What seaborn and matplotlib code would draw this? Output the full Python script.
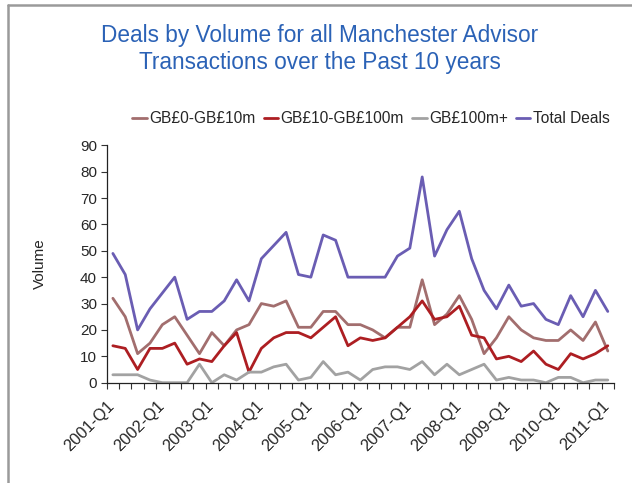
import pandas as pd
import matplotlib
matplotlib.use("Agg")
import matplotlib.pyplot as plt
import matplotlib.transforms as mtransforms
from matplotlib.lines import Line2D
import seaborn as sns

# Quarterly deal counts, 2001-Q1 .. 2011-Q1
quarters = [f"{y}-Q{q}" for y in range(2001, 2012) for q in range(1, 5)][:41]

small_deals = [32, 25, 11, 15, 22, 25, 18, 11, 19, 14, 20, 22, 30, 29, 31, 21, 21, 27, 27, 22, 22,
               20, 17, 21, 21, 39, 22, 26, 33, 24, 11, 17, 25, 20, 17, 16, 16, 20, 16, 23, 12]
mid_deals = [14, 13, 5, 13, 13, 15, 7, 9, 8, 14, 19, 4, 13, 17, 19, 19, 17, 21, 25, 14, 17,
             16, 17, 21, 25, 31, 24, 25, 29, 18, 17, 9, 10, 8, 12, 7, 5, 11, 9, 11, 14]
large_deals = [3, 3, 3, 1, 0, 0, 0, 7, 0, 3, 1, 4, 4, 6, 7, 1, 2, 8, 3, 4, 1,
               5, 6, 6, 5, 8, 3, 7, 3, 5, 7, 1, 2, 1, 1, 0, 2, 2, 0, 1, 1]
total_deals = [49, 41, 20, 28, 34, 40, 24, 27, 27, 31, 39, 31, 47, 52, 57, 41, 40, 56, 54, 40, 40,
               40, 40, 48, 51, 78, 48, 58, 65, 47, 35, 28, 37, 29, 30, 24, 22, 33, 25, 35, 27]

series_names = ["GB£0-GB£10m", "GB£10-GB£100m", "GB£100m+", "Total Deals"]
colors = ["#a26e6e", "#ad1e22", "#a2a2a2", "#6a5db3"]

frames = []
for name, vals in zip(series_names, [small_deals, mid_deals, large_deals, total_deals]):
    frames.append(pd.DataFrame({"pos": range(len(quarters)), "Quarter": quarters,
                                "Volume": vals, "Series": name}))
df = pd.concat(frames, ignore_index=True)

sns.set_theme(style="white")
plt.rcParams["font.family"] = ["Liberation Sans", "DejaVu Sans"]

fig = plt.figure(figsize=(6.32, 4.83), dpi=100)
ax = fig.add_axes([0.1688, 0.2077, 0.8027, 0.4915])

sns.lineplot(data=df, x="pos", y="Volume", hue="Series", hue_order=series_names,
             palette=colors, linewidth=2.0, sort=False, ax=ax, legend=False)

ax.set_xlim(-0.5, len(quarters) - 0.5)
ax.set_ylim(0, 90)
ax.set_yticks(range(0, 91, 10))
ax.set_xticks(range(0, len(quarters), 4))
ax.set_xticklabels(quarters[::4], rotation=45, ha="right", rotation_mode="anchor", fontsize=11.8)
ax.set_xticks([i - 0.5 for i in range(len(quarters) + 1)], minor=True)
ax.tick_params(axis="x", which="major", length=0, pad=10)
ax.tick_params(axis="x", which="minor", length=4, width=0.8, color="#333333", direction="out", bottom=True)
ax.tick_params(axis="y", length=4, width=0.8, color="#333333", direction="out", left=True, labelsize=11, pad=3)

# nudge the rotated quarter labels like the original
shift = mtransforms.ScaledTranslation(-6 / 100, -2 / 100, fig.dpi_scale_trans)
for lbl in ax.get_xticklabels():
    lbl.set_transform(lbl.get_transform() + shift)

for s in ["top", "right"]:
    ax.spines[s].set_visible(False)
for s in ["left", "bottom"]:
    ax.spines[s].set_color("#222222")
    ax.spines[s].set_linewidth(0.9)

ax.set_xlabel("")
ax.set_ylabel("Volume", fontsize=11, labelpad=24)

handles = [Line2D([], [], color=c, lw=2.0) for c in colors]
fig.legend(handles, series_names, loc="center", bbox_to_anchor=(0.587, 0.754), ncol=4,
           frameon=False, fontsize=11.2, handlelength=0.95, handletextpad=0.15, columnspacing=0.5)

fig.text(0.506, 0.898, "Deals by Volume for all Manchester Advisor\nTransactions over the Past 10 years",
         ha="center", va="center", fontsize=16.3, color="#2b62b6", linespacing=1.22)

# grey frame of the original panel
fig.add_artist(Line2D([8 / 632, 8 / 632], [0, 1 - 5 / 483], color="#9a9a9a", lw=1.8))
fig.add_artist(Line2D([8 / 632, 1], [1 - 5 / 483, 1 - 5 / 483], color="#9a9a9a", lw=1.8))

fig.savefig("out.png", dpi=100)
